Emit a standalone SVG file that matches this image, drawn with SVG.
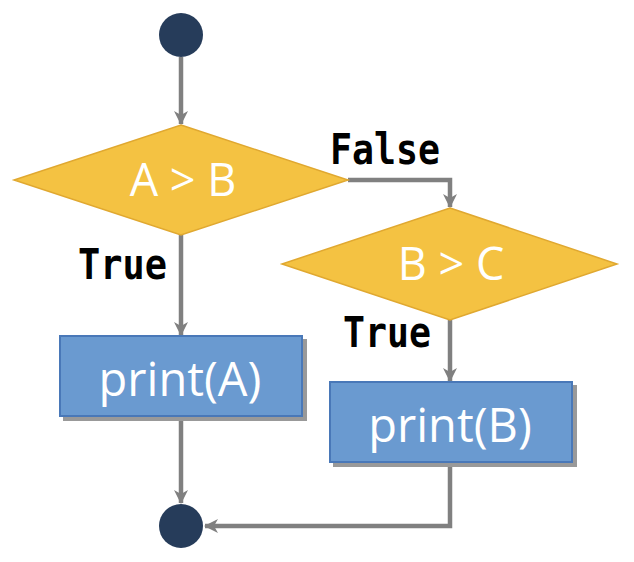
<svg xmlns="http://www.w3.org/2000/svg" width="634" height="562" viewBox="0 0 634 562">
<defs>
<marker id="ah" viewBox="0 0 14 14" refX="13" refY="7" markerWidth="14" markerHeight="14" markerUnits="userSpaceOnUse" orient="auto">
<path d="M0,0 L14,7 L0,14 L4,7 z" fill="#808080"/>
</marker>
<filter id="sh" x="-10%" y="-10%" width="130%" height="130%">
<feOffset dx="4" dy="4" in="SourceAlpha" result="o"/>
<feFlood flood-color="#999999"/>
<feComposite in2="o" operator="in"/>
<feMerge><feMergeNode/><feMergeNode in="SourceGraphic"/></feMerge>
</filter>
</defs>
<style>
.term{fill:#263c5a}
.dec{fill:#f4c242;stroke:#e0a830;stroke-width:1.5}
.proc{fill:#6a9ad0;stroke:#4a78b8;stroke-width:2}
.nt{fill:#ffffff;font-family:"Open Sans","DejaVu Sans",sans-serif;text-anchor:middle}
.lbl{fill:#000000;font-family:"DejaVu Sans Mono","Liberation Mono",monospace;font-weight:bold;font-size:43px}
.c{fill:none;stroke:#808080;stroke-width:4.5;marker-end:url(#ah)}
</style>
<g id="connectors">
<path class="c" d="M181,57 L181,124"/>
<path class="c" d="M348,180 L450,180 L450,207"/>
<path class="c" d="M181,235 L181,335"/>
<path class="c" d="M450,320 L450,381"/>
<path class="c" d="M181,416 L181,503"/>
<path class="c" d="M450,462 L450,526 L205,526"/>
</g>
<g id="start"><circle class="term" cx="181" cy="35" r="22"/></g>
<g id="dec1">
<polygon class="dec" points="181,125 348,180 181,235 14,180"/>
<text class="nt" x="183" y="196" font-size="45">A &gt; B</text>
</g>
<g id="dec2">
<polygon class="dec" points="450,208 617,264 450,320 282,264"/>
<text class="nt" x="451" y="280" font-size="45">B &gt; C</text>
</g>
<g id="procA">
<rect class="proc" x="60" y="336" width="242" height="80" filter="url(#sh)"/>
<text class="nt" x="180" y="396" font-size="47">print(A)</text>
</g>
<g id="procB">
<rect class="proc" x="330" y="382" width="242" height="80" filter="url(#sh)"/>
<text class="nt" x="450" y="442" font-size="47">print(B)</text>
</g>
<g id="end"><circle class="term" cx="181" cy="526" r="22"/></g>
<g id="labels">
<text class="lbl" x="330" y="164" textLength="110" lengthAdjust="spacingAndGlyphs">False</text>
<text class="lbl" x="78" y="279" textLength="89" lengthAdjust="spacingAndGlyphs">True</text>
<text class="lbl" x="343" y="347" textLength="88" lengthAdjust="spacingAndGlyphs">True</text>
</g>
</svg>
